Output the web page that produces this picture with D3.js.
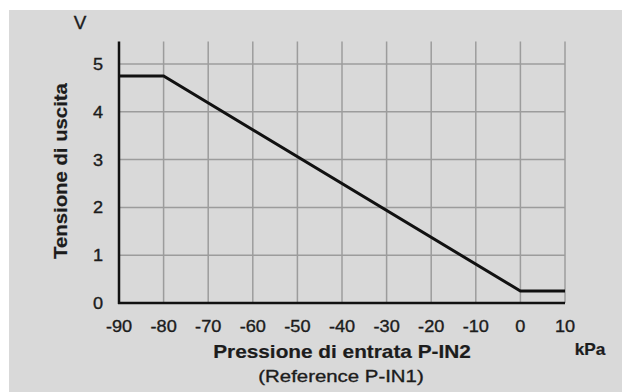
<!DOCTYPE html>
<html><head><meta charset="utf-8">
<script src="https://cdn.jsdelivr.net/npm/d3@7"></script>
<style>body{margin:0;background:#fff}svg{display:block;font-family:"Liberation Sans",Arial,sans-serif}</style>
</head><body><svg id="c" width="622" height="392"></svg>
<script>
const xTicks = [-90,-80,-70,-60,-50,-40,-30,-20,-10,0,10];
const yTicks = [0,1,2,3,4,5];
const pressure = [-90,-80,0,10];
const voltage = [4.75,4.75,0.25,0.25];
const yTitle = "Tensione di uscita";
const xTitle = "Pressione di entrata P-IN2";
const xSub = "(Reference P-IN1)";
const xUnit = "kPa", yUnit = "V";

const ink = "#1c1c1c";
const svg = d3.select("#c");
svg.append("rect").attr("x",9).attr("y",10).attr("width",613).attr("height",382).attr("fill","#d9d9d9");

const x = d3.scaleLinear().domain([-90,10]).range([119,565]);
const y = d3.scaleLinear().domain([0,5]).range([303,64]);
const yTop = y(5.47);

const g = svg.append("g");
g.selectAll("line.v").data(xTicks.slice(1)).join("line")
 .attr("x1",d=>x(d)).attr("x2",d=>x(d)).attr("y1",y(0)).attr("y2",yTop)
 .attr("stroke","#9c9c9c").attr("stroke-width",1.5);
g.selectAll("line.h").data(yTicks.slice(1)).join("line")
 .attr("x1",x(-90)).attr("x2",x(10)).attr("y1",d=>y(d)).attr("y2",d=>y(d))
 .attr("stroke","#9c9c9c").attr("stroke-width",1.5);

g.append("line").attr("x1",x(-90)).attr("x2",x(-90)).attr("y1",y(0)+1).attr("y2",yTop).attr("stroke","#111").attr("stroke-width",2.5);
g.append("line").attr("x1",x(-90)-1).attr("x2",x(10)).attr("y1",y(0)).attr("y2",y(0)).attr("stroke","#111").attr("stroke-width",2.5);

const line = d3.line().x((d,i)=>x(pressure[i])).y(d=>y(d));
g.append("path").attr("d",line(voltage)).attr("fill","none").attr("stroke","#111").attr("stroke-width",3).attr("stroke-linejoin","miter");

function txt(px, py, s, opt){
  const t = svg.append("text")
    .attr("transform", `translate(${px},${py})` + (opt.rot?` rotate(${opt.rot})`:"") + ` scale(${opt.sx||1},1)`)
    .attr("text-anchor", opt.anchor||"middle")
    .attr("font-size", opt.size).attr("fill", ink)
    .attr("font-weight", opt.bold?"bold":"normal")
    .attr("stroke", ink).attr("stroke-width", opt.sw||0.35)
    .text(s);
  return t;
}
xTicks.forEach(d=>txt(x(d), 332, d, {size:16.5, sx:1.1}));
yTicks.forEach(d=>txt(103, y(d)+6, d, {size:16.5, sx:1.1, anchor:"end"}));

txt(80, 29, yUnit, {size:17.5, sx:1.08});
txt(590, 355, xUnit, {size:16, sx:1.08, bold:true, sw:0.2});

txt(342, 358, xTitle, {size:18, sx:1.155, bold:true, sw:0.2});
txt(341, 382, xSub, {size:17, sx:1.2});
txt(67, 171, yTitle, {size:18, sx:1.13, bold:true, rot:-90, sw:0.2});
</script></body></html>
